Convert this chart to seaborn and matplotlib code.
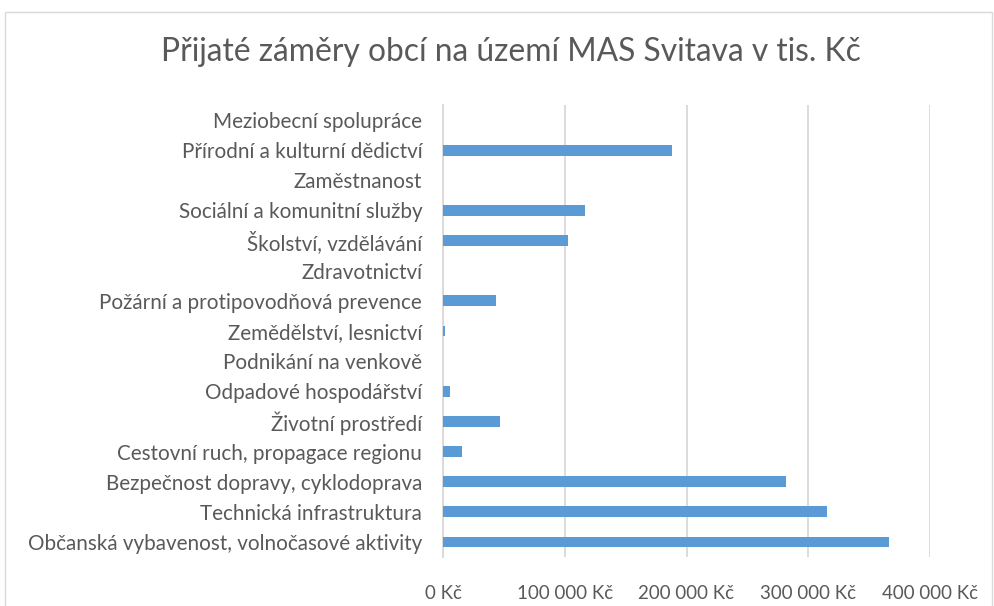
import matplotlib
matplotlib.use("Agg")
import matplotlib.pyplot as plt
import seaborn as sns
import pandas as pd
from matplotlib.patches import Rectangle
from matplotlib.ticker import FuncFormatter

categories = [
    "Meziobecní spolupráce",
    "Přírodní a kulturní dědictví",
    "Zaměstnanost",
    "Sociální a komunitní služby",
    "Školství, vzdělávání",
    "Zdravotnictví",
    "Požární a protipovodňová prevence",
    "Zemědělství, lesnictví",
    "Podnikání na venkově",
    "Odpadové hospodářství",
    "Životní prostředí",
    "Cestovní ruch, propagace regionu",
    "Bezpečnost dopravy, cyklodoprava",
    "Technická infrastruktura",
    "Občanská vybavenost, volnočasové aktivity",
]
values = [0, 188000, 0, 117000, 103000, 0, 43500, 2000, 0, 5500, 46500, 16000, 282000, 315500, 366000]
x_ticks = [0, 100000, 200000, 300000, 400000]
title = "Přijaté záměry obcí na území MAS Svitava v tis. Kč"

df = pd.DataFrame({"kategorie": categories, "hodnota": values})

sns.set_theme(style="white")
plt.rcParams["font.family"] = ["Lato", "DejaVu Sans"]

text_color = "#595959"
fig = plt.figure(figsize=(9.94, 6.06), dpi=100)
ax = fig.add_axes([443/994, 1-557/606, (930-443)/994, (557-105)/606])

sns.barplot(data=df, x="hodnota", y="kategorie", order=categories, orient="h",
            color="#5B9BD5", saturation=1, width=0.36, linewidth=0, ax=ax, zorder=3)

ax.set_xlim(0, 400000)
ax.set_xticks(x_ticks)
ax.xaxis.set_major_formatter(FuncFormatter(lambda v, p: (f"{int(v):,}".replace(",", " ") + " Kč")))
ax.grid(axis="x", color="#d9d9d9", linewidth=1.3, zorder=0)
ax.set_axisbelow(True)
for s in ["top", "right", "bottom"]:
    ax.spines[s].set_visible(False)
ax.spines["left"].set_color("#d9d9d9")
ax.spines["left"].set_linewidth(1.3)
ax.set_xlabel("")
ax.set_ylabel("")
ax.tick_params(axis="both", length=0, labelcolor=text_color)
ax.tick_params(axis="x", pad=20, labelsize=13.5)
ax.tick_params(axis="y", pad=15, labelsize=14.9)

fig.text(0.514, 1-52/606, title, ha="center", va="center", fontsize=22.9, color=text_color)
fig.patches.append(Rectangle((5/994, -0.01), 987/994, 1-12/606+0.01, transform=fig.transFigure,
                             fill=False, edgecolor="#d9d9d9", linewidth=1))

fig.savefig("out.png", dpi=100, facecolor="white")
